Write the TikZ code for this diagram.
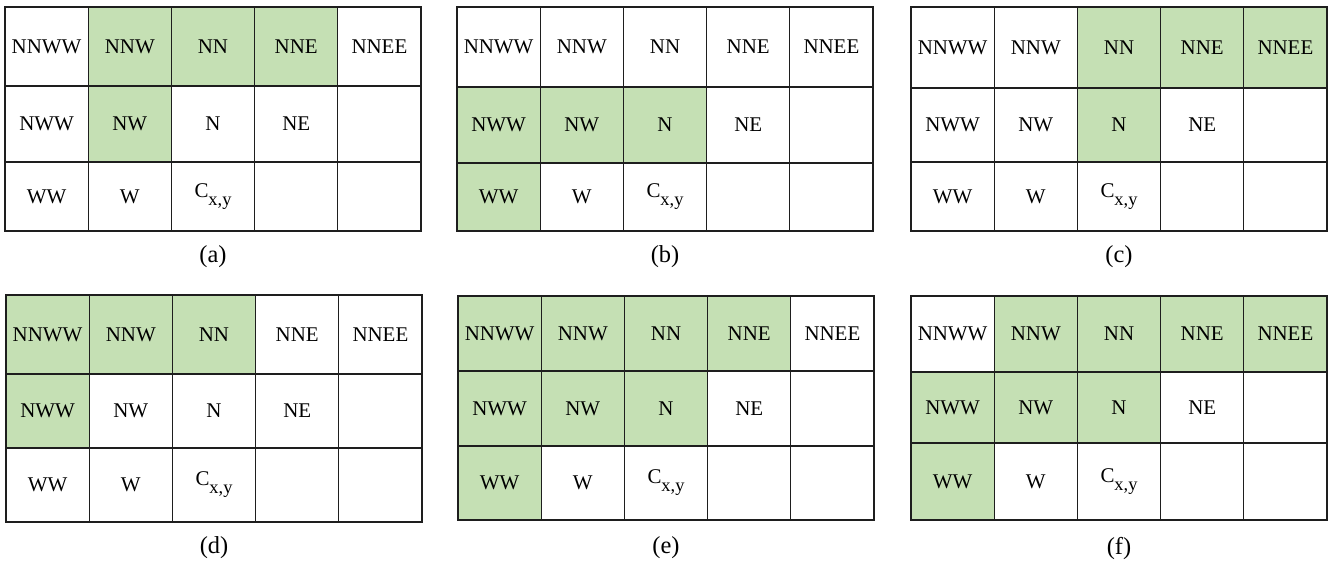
\documentclass[tikz,border=0pt]{standalone}
\usepackage{fontspec}
\setmainfont{Liberation Serif}
\usetikzlibrary{backgrounds}
\definecolor{leaf}{HTML}{C5E0B4}
\definecolor{rule}{HTML}{1E1E1E}
% centre pixel label with its lowered subscript
\newcommand\cxy{C\raisebox{-8bp}{\fontsize{18.5}{18.5}\selectfont x,y}}
\newcommand\nolabel{}
\tikzset{
  cellbox/.style={draw=rule, line width=1.3bp, rectangle, inner sep=0pt,
    outer sep=0pt, minimum width=83.2bp, font=\fontsize{21}{25}\selectfont},
  caption/.style={font=\fontsize{24.5}{28}\selectfont, inner sep=0pt}
}
% #1 panel name, #2 left x, #3-#6 row boundaries (top to bottom),
% #7 shaded cells as row-column, #8 caption y
\newcommand\gridpanel[8]{%
  \foreach \r/\ta/\tb/\labs in {1/#3/#4/{NNWW,NNW,NN,NNE,NNEE},
      2/#4/#5/{NWW,NW,N,NE,\nolabel}, 3/#5/#6/{WW,W,\cxy,\nolabel,\nolabel}}{
    \foreach \t [count=\c] in \labs {
      \node[cellbox, minimum height={(\tb-\ta)*1bp}] (#1-\r-\c)
        at ({#2+(\c-0.5)*83.2}, {(\ta+\tb)/2}) {\t};
    }
  }
  \begin{scope}[on background layer]
    \foreach \g in {#7} {
      \fill[leaf] (#1-\g.north west) rectangle (#1-\g.south east);
    }
  \end{scope}
  \node[caption] (#1-cap) at ({#2+208}, #8) {(#1)};
}
\begin{document}
\begin{tikzpicture}[x=1bp, y=-1bp]
  \useasboundingbox (0,0) rectangle (1332,562);
  \gridpanel{a}{5}{7}{86}{162}{231}{1-2,1-3,1-4,2-2}{257}
  \gridpanel{b}{457}{7}{87}{163}{231}{2-1,2-2,2-3,3-1}{257}
  \gridpanel{c}{911}{7}{88}{162}{231}{1-3,1-4,1-5,2-3}{257}
  \gridpanel{d}{6}{295}{374}{448}{522}{1-1,1-2,1-3,2-1}{548}
  \gridpanel{e}{458}{296}{371}{446}{520}{1-1,1-2,1-3,1-4,2-1,2-2,2-3,3-1}{548}
  \gridpanel{f}{911}{296}{372}{443}{520}{1-2,1-3,1-4,1-5,2-1,2-2,2-3,3-1}{548}
\end{tikzpicture}
\end{document}
